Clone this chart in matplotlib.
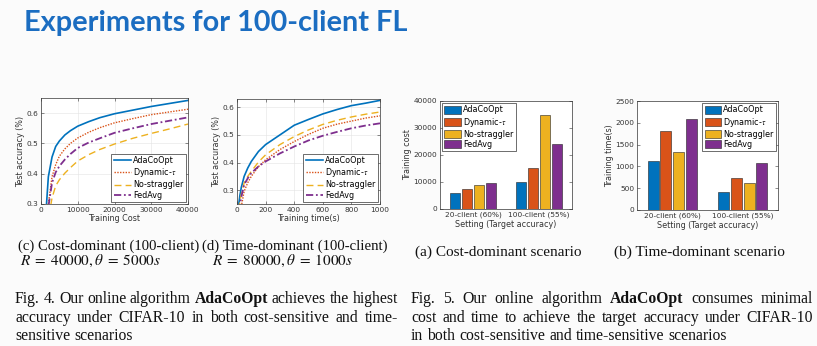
import matplotlib
matplotlib.use('Agg')
import matplotlib.pyplot as plt
import numpy as np

# ---- data ----
methods = ['AdaCoOpt', 'Dynamic-$\\tau$', 'No-straggler', 'FedAvg']
colors = ['#0072BD', '#D95319', '#EDB120', '#7E2F8E']

# (c) cost-dominant curves
cost_x = [1000, 1500, 2000, 3000, 4000, 5000, 6500, 8000, 10000, 13000, 16000, 20000, 25000, 30000, 35000, 40000]
cost_ada = [0.24, 0.30, 0.39, 0.455, 0.49, 0.508, 0.528, 0.542, 0.557, 0.572, 0.585, 0.598, 0.610, 0.622, 0.632, 0.642]
cost_dyn = [0.20, 0.25, 0.30, 0.39, 0.43, 0.458, 0.482, 0.500, 0.518, 0.537, 0.552, 0.568, 0.582, 0.595, 0.604, 0.613]
cost_nos = [0.15, 0.20, 0.25, 0.32, 0.36, 0.38, 0.402, 0.42, 0.442, 0.463, 0.48, 0.498, 0.517, 0.533, 0.548, 0.564]
cost_fed = [0.20, 0.24, 0.29, 0.37, 0.405, 0.425, 0.447, 0.465, 0.485, 0.503, 0.517, 0.535, 0.55, 0.564, 0.575, 0.586]

# (d) time-dominant curves
time_x = [0, 10, 20, 30, 50, 75, 100, 150, 200, 300, 400, 500, 600, 700, 800, 900, 1000]
time_ada = [0.15, 0.24, 0.28, 0.31, 0.35, 0.38, 0.404, 0.44, 0.465, 0.50, 0.535, 0.556, 0.576, 0.592, 0.606, 0.615, 0.625]
time_dyn = [0.10, 0.15, 0.20, 0.24, 0.296, 0.327, 0.35, 0.385, 0.41, 0.447, 0.476, 0.502, 0.524, 0.539, 0.55, 0.561, 0.569]
time_nos = [0.15, 0.22, 0.26, 0.285, 0.326, 0.35, 0.368, 0.402, 0.428, 0.465, 0.494, 0.518, 0.538, 0.553, 0.565, 0.575, 0.583]
time_fed = [0.12, 0.19, 0.245, 0.275, 0.32, 0.343, 0.362, 0.386, 0.404, 0.433, 0.458, 0.48, 0.497, 0.511, 0.524, 0.534, 0.542]

# (a)/(b) bars
settings = ['20-client (60%)', '100-client (55%)']
bar_cost = [[5900, 10000], [7300, 15200], [8800, 34800], [9500, 24000]]
bar_time = [[1130, 420], [1810, 740], [1320, 630], [2080, 1070]]

W, H = 817, 346
fig = plt.figure(figsize=(W / 100, H / 100), dpi=100)
fig.patch.set_facecolor('#fbfbfb')
rend = fig.canvas.get_renderer()
plt.rcParams['mathtext.fontset'] = 'stix'


def px_axes(l, r, t, b):
    return fig.add_axes([l / W, 1 - b / H, (r - l) / W, (b - t) / H])


def style(ax):
    ax.set_facecolor('white')
    for s in ax.spines.values():
        s.set_linewidth(0.5)
        s.set_color('#333333')
    ax.tick_params(direction='in', length=2, width=0.4, labelsize=5.3,
                   colors='#333333', pad=2, top=True, right=True)


def legend(ax, loc, **kw):
    lg = ax.legend(loc=loc, fontsize=5.8, handletextpad=0.3, borderpad=0.3,
                   labelspacing=0.15, borderaxespad=0.25, fancybox=False,
                   edgecolor='#333333', framealpha=1, **kw)
    lg.get_frame().set_linewidth(0.5)


def line_panel(ax, x, ys, xlabel, xlim, ylim, xticks):
    styles = [dict(ls='-', lw=1.2), dict(ls=(0, (1, 1)), lw=1.0),
              dict(ls=(0, (5, 3)), lw=1.0), dict(ls=(0, (4, 1.5, 1, 1.5)), lw=1.3)]
    for y, c, st, m in zip(ys, colors, styles, methods):
        ax.plot(x, y, color=c, label=m, **st)
    ax.set_xlim(*xlim)
    ax.set_ylim(*ylim)
    ax.set_xticks(xticks)
    ax.set_yticks([0.3, 0.4, 0.5, 0.6])
    ax.grid(True, color='#e3e3e3', lw=0.4)
    ax.set_axisbelow(True)
    ax.set_xlabel(xlabel, fontsize=5.8, labelpad=1, color='#333333')
    ax.set_ylabel('Test accuracy (%)', fontsize=5.8, labelpad=1, color='#333333')
    legend(ax, 'lower right', handlelength=2.1)
    style(ax)


axc = px_axes(41, 188, 98, 204)
line_panel(axc, cost_x, [cost_ada, cost_dyn, cost_nos, cost_fed], 'Training Cost',
           (0, 40000), (0.3, 0.65), [0, 10000, 20000, 30000, 40000])

axd = px_axes(237, 380, 99, 204)
line_panel(axd, time_x, [time_ada, time_dyn, time_nos, time_fed], 'Training time(s)',
           (0, 1000), (0.25, 0.63), [0, 200, 400, 600, 800, 1000])


def bar_panel(ax, vals, ylabel, ylim, yticks, loc):
    pos = np.arange(1, len(settings) + 1)
    offs = [-0.27, -0.09, 0.09, 0.27]
    for v, c, o, m in zip(vals, colors, offs, methods):
        ax.bar(pos + o, v, width=0.155, color=c, edgecolor='#222222', lw=0.4, label=m)
    ax.set_xlim(0.5, 2.5)
    ax.set_ylim(*ylim)
    ax.set_yticks(yticks)
    ax.set_xticks(pos)
    ax.set_xticklabels(settings)
    ax.set_xlabel('Setting (Target accuracy)', fontsize=5.8, labelpad=1, color='#333333')
    ax.set_ylabel(ylabel, fontsize=5.8, labelpad=1, color='#333333')
    legend(ax, loc, handlelength=2.0, handleheight=1.1)
    style(ax)
    ax.tick_params(axis='x', length=0)


axa = px_axes(440, 572, 101, 209)
bar_panel(axa, bar_cost, 'Training cost', (0, 40000), [0, 10000, 20000, 30000, 40000], 'upper left')

axb = px_axes(637, 778, 101, 210)
bar_panel(axb, bar_time, 'Training time(s)', (0, 2500), [0, 500, 1000, 1500, 2000, 2500], 'upper right')

# ---- slide texts ----
fig.text(24 / W, 1 - 23 / H, 'Experiments for 100-client FL', fontsize=20.8, fontweight='bold',
         family='Lato', color='#1b6dc1', va='center', ha='left')

serif = 'Liberation Serif'


def txt(x, y, s, size=10.6, ha='left', **kw):
    return fig.text(x / W, 1 - y / H, s, fontsize=size, family=serif, ha=ha, va='center',
                    color='#111111', **kw)


txt(18, 246, '(c) Cost-dominant (100-client)')
txt(20, 261, '$R\\;=\\;40000,\\theta\\;=\\;5000s$', size=11)
txt(202, 246, '(d) Time-dominant (100-client)')
txt(212, 261, '$R\\;=\\;80000,\\theta\\;=\\;1000s$', size=11)
txt(498, 252, '(a) Cost-dominant scenario', size=11, ha='center')
txt(699, 252, '(b) Time-dominant scenario', size=11, ha='center')

cap = 11.3


def justified(x0, x1, y, words, bold=(), last=False):
    items = [txt(x0, y, w, size=cap, fontweight='bold' if w in bold else 'normal') for w in words]
    widths = [t.get_window_extent(rend).width for t in items]
    a = txt(x0, y, 'a a', size=cap)
    b = txt(x0, y, 'aa', size=cap)
    space = a.get_window_extent(rend).width - b.get_window_extent(rend).width
    a.remove()
    b.remove()
    gap = space if last else (x1 - x0 - sum(widths)) / (len(words) - 1)
    x = x0
    for t, w in zip(items, widths):
        t.set_x(x / W)
        x += w + gap


fig4 = ['Fig. 4. Our online algorithm AdaCoOpt achieves the highest',
        'accuracy under CIFAR-10 in both cost-sensitive and time-',
        'sensitive scenarios']
fig5 = ['Fig. 5. Our online algorithm AdaCoOpt consumes minimal',
        'cost and time to achieve the target accuracy under CIFAR-10',
        'in both cost-sensitive and time-sensitive scenarios']
for i, (l4, l5) in enumerate(zip(fig4, fig5)):
    y = 299 + i * 18.5
    justified(15, 398, y, l4.split(), bold=('AdaCoOpt',), last=(i == 2))
    justified(411, 813, y, l5.split(), bold=('AdaCoOpt',), last=(i == 2))

fig.savefig('out.png', dpi=100, facecolor=fig.get_facecolor())
